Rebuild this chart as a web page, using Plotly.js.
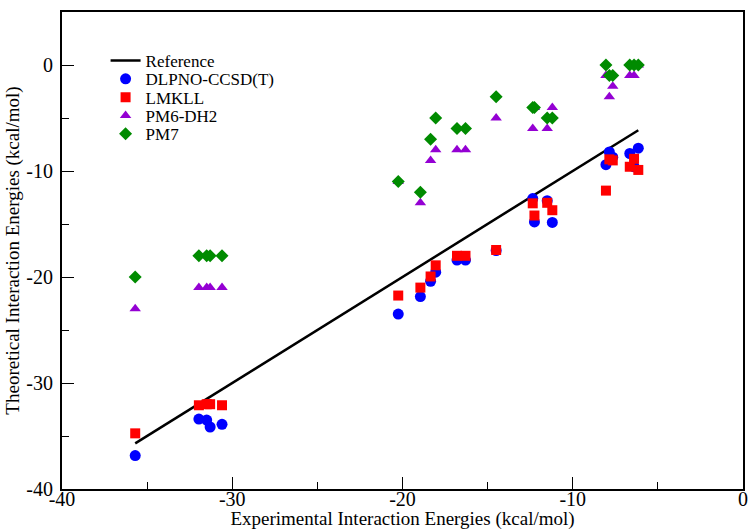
<!DOCTYPE html>
<html>
<head>
<meta charset="utf-8">
<script src="https://cdn.plot.ly/plotly-3.0.1.min.js"></script>
<style>html,body{margin:0;padding:0;background:#fff}#chart{width:750px;height:530px}</style>
</head>
<body>
<div id="chart"></div>
<script>
// Experimental interaction energies (kcal/mol)
const experimental = [-35.7, -31.96, -31.5, -31.3, -30.6, -20.25, -18.95, -18.35, -18.05, -16.8, -16.3, -14.5, -12.35, -12.25, -11.5, -11.2, -8.05, -7.85, -7.65, -6.65, -6.4, -6.15];
const dlpno = [-36.85, -33.4, -33.5, -34.15, -33.9, -23.5, -21.85, -20.4, -19.55, -18.4, -18.4, -17.5, -12.6, -14.8, -12.8, -14.85, -9.4, -8.2, -8.7, -8.35, -9.6, -7.85];
const lmkll = [-34.75, -32.1, -32.0, -32.0, -32.1, -21.75, -21.0, -19.95, -18.9, -18.0, -18.0, -17.45, -13.05, -14.2, -13.0, -13.7, -11.85, -8.9, -9.0, -9.6, -8.85, -9.9];
const pm6dh2 = [-23, -21, -21, -21, -21, -11, -13, -9, -8, -8, -8, -5, -6, -4, -6, -4, -1, -3, -2, -1, -1, 0];
const pm7 = [-20, -18, -18, -18, -18, -11, -12, -7, -5, -6, -6, -3, -4, -4, -5, -5, 0, -1, -1, 0, 0, 0];
const refLine = [-35.7, -6.15];
const seriesNames = ["Reference", "DLPNO-CCSD(T)", "LMKLL", "PM6-DH2", "PM7"];
const xTickVals = [-40, -30, -20, -10, 0];
const yTickVals = [-40, -30, -20, -10, 0];

const font = "'Liberation Serif', 'Times New Roman', serif";
const traces = [
  {x: refLine, y: refLine, mode: "lines", name: seriesNames[0], line: {color: "#000", width: 2.5}},
  {x: experimental, y: dlpno, mode: "markers", name: seriesNames[1], marker: {symbol: "circle", color: "#0000ff", size: 11}},
  {x: experimental, y: lmkll, mode: "markers", name: seriesNames[2], marker: {symbol: "square", color: "#ff0000", size: 10}},
  {x: experimental, y: pm6dh2, mode: "markers", name: seriesNames[3], marker: {symbol: "triangle-up", color: "#9400d3", size: 10}},
  {x: experimental, y: pm7, mode: "markers", name: seriesNames[4], marker: {symbol: "diamond", color: "#008b00", size: 10}}
];
const axisCommon = {
  showgrid: false, zeroline: false, showline: true, linecolor: "#000", linewidth: 2, mirror: true,
  ticks: "inside", ticklen: 12, tickwidth: 1, tickcolor: "#000", automargin: false,
  tickfont: {family: font, size: 20, color: "#000"},
  minor: {ticks: "inside", ticklen: 7, tickwidth: 1, tickcolor: "#000", dtick: 5}
};
const layout = {
  width: 750, height: 530,
  margin: {l: 62, r: 7, t: 12, b: 41},
  paper_bgcolor: "#fff", plot_bgcolor: "#fff",
  font: {family: font, color: "#000"},
  xaxis: Object.assign({}, axisCommon, {range: [-40, 0], tickvals: xTickVals, ticktext: xTickVals.map(String),
    ticklabelstandoff: -9,
    title: {text: "Experimental Interaction Energies (kcal/mol)", font: {family: font, size: 19, color: "#000"}, standoff: 6}}),
  yaxis: Object.assign({}, axisCommon, {range: [-40, 5], tickvals: yTickVals, ticktext: yTickVals.map(String),
    ticklabelstandoff: 3,
    title: {text: "Theoretical Interaction Energies (kcal/mol)", font: {family: font, size: 19, color: "#000"}, standoff: 2}}),
  showlegend: true,
  legend: {x: 0.064, y: 0.935, xanchor: "left", yanchor: "top", bgcolor: "rgba(0,0,0,0)", borderwidth: 0,
    font: {family: font, size: 17, color: "#000"}, itemwidth: 30, tracegroupgap: 0}
};
Plotly.newPlot("chart", traces, layout, {displayModeBar: false, staticPlot: true}).then(function (gd) {
  // tighten legend row spacing to match the reference
  const items = gd.querySelectorAll(".legend .traces");
  items.forEach(function (el, i) {
    const m = /translate\(([-\d.]+)[ ,]+([-\d.]+)\)/.exec(el.getAttribute("transform") || "");
    if (!m) return;
    if (i === 0) { el.dataset.y0 = m[2]; }
    const y0 = parseFloat(items[0].dataset.y0 || m[2]);
    el.setAttribute("transform", "translate(" + m[1] + "," + (y0 + i * 18.3) + ")");
  });
});
</script>
</body>
</html>
